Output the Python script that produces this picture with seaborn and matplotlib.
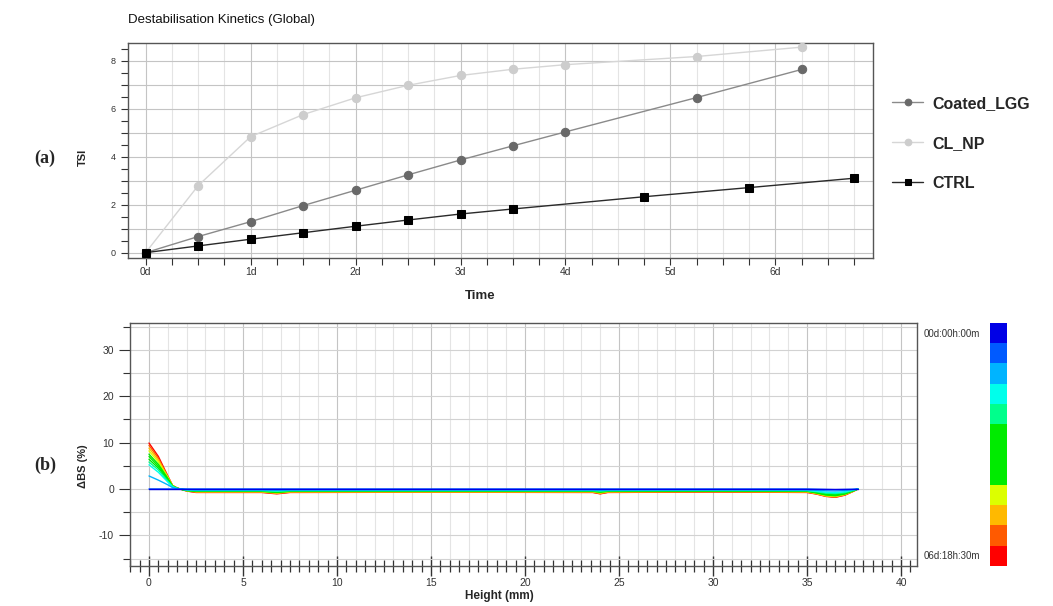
import numpy as np
import pandas as pd
import matplotlib
matplotlib.use("Agg")
import matplotlib.pyplot as plt
import seaborn as sns
from matplotlib.ticker import MultipleLocator, FuncFormatter
from matplotlib.colors import ListedColormap, BoundaryNorm
from matplotlib.cm import ScalarMappable

# --- panel (a): TSI kinetics ---
t_np = [0, 0.5, 1, 1.5, 2, 2.5, 3, 3.5, 4, 5.25, 6.25]
tsi_cl_np = [0, 2.79, 4.83, 5.75, 6.45, 6.97, 7.38, 7.64, 7.83, 8.17, 8.56]
t_lgg = [0, 0.5, 1, 1.5, 2, 2.5, 3, 3.5, 4, 5.25, 6.25]
tsi_coated_lgg = [0, 0.67, 1.29, 1.96, 2.6, 3.24, 3.86, 4.45, 5.03, 6.46, 7.63]
t_ctrl = [0, 0.5, 1, 1.5, 2, 2.5, 3, 3.5, 4.75, 5.75, 6.75]
tsi_ctrl = [0, 0.28, 0.56, 0.83, 1.1, 1.36, 1.61, 1.82, 2.33, 2.71, 3.1]
day_labels = ["0d", "1d", "2d", "3d", "4d", "5d", "6d"]

# --- panel (b): delta backscattering profiles (first scan -> last scan) ---
heights = [0, 0.5, 1.0, 1.25, 1.5, 2.0, 2.5, 6.0, 6.8, 7.5, 15, 23.6, 24.0,
           24.4, 30, 35.0, 35.5, 36.0, 36.5, 37.0, 37.5, 37.7]
profiles = [
    [0, 0, 0, 0, 0, 0, 0, 0, 0, 0, 0, 0, 0, 0, 0, 0, 0, 0, 0, 0, 0, 0],
    [0, 0, 0, 0, 0, 0, 0, 0, 0, 0, 0, 0, 0, 0, 0, 0, -0.05, -0.1, -0.15, -0.1, -0.05, 0],
    [2.8, 1.9, 0.9, 0.3, 0.1, -0.1, -0.2, -0.2, -0.25, -0.2, -0.2, -0.2, -0.25, -0.2, -0.15, -0.2, -0.3, -0.4, -0.45, -0.35, -0.1, 0],
    [5.2, 3.6, 1.5, 0.5, 0.1, -0.2, -0.3, -0.3, -0.4, -0.3, -0.3, -0.3, -0.35, -0.3, -0.25, -0.3, -0.5, -0.7, -0.8, -0.6, -0.2, 0],
    [5.8, 4.1, 1.7, 0.5, 0.1, -0.25, -0.35, -0.35, -0.5, -0.35, -0.35, -0.35, -0.45, -0.35, -0.3, -0.35, -0.6, -0.9, -1.0, -0.8, -0.25, 0],
    [6.4, 4.5, 1.9, 0.6, 0.1, -0.3, -0.4, -0.4, -0.6, -0.4, -0.4, -0.4, -0.5, -0.4, -0.35, -0.4, -0.7, -1.1, -1.2, -0.9, -0.3, 0],
    [7.0, 4.9, 2.1, 0.6, 0.15, -0.3, -0.45, -0.45, -0.7, -0.45, -0.45, -0.45, -0.6, -0.45, -0.4, -0.45, -0.8, -1.2, -1.35, -1.0, -0.3, 0],
    [7.5, 5.3, 2.3, 0.65, 0.15, -0.35, -0.5, -0.5, -0.75, -0.5, -0.5, -0.5, -0.7, -0.5, -0.45, -0.5, -0.85, -1.3, -1.45, -1.1, -0.35, 0],
    [8.2, 5.8, 2.5, 0.7, 0.15, -0.35, -0.55, -0.55, -0.8, -0.55, -0.55, -0.55, -0.8, -0.55, -0.5, -0.55, -0.9, -1.4, -1.55, -1.15, -0.35, 0],
    [8.8, 6.2, 2.6, 0.7, 0.2, -0.4, -0.6, -0.6, -0.9, -0.6, -0.6, -0.6, -0.9, -0.6, -0.55, -0.6, -1.0, -1.5, -1.65, -1.2, -0.4, 0],
    [9.4, 6.6, 2.7, 0.75, 0.2, -0.4, -0.7, -0.7, -0.95, -0.7, -0.65, -0.7, -1.0, -0.7, -0.6, -0.7, -1.05, -1.55, -1.75, -1.3, -0.4, 0],
    [9.9, 7.0, 2.8, 0.75, 0.2, -0.45, -0.75, -0.75, -1.05, -0.75, -0.7, -0.75, -1.05, -0.75, -0.65, -0.75, -1.1, -1.6, -1.8, -1.35, -0.45, 0],
]
profile_colors = ["#0000e6", "#005aff", "#00b4ff", "#00ffeb", "#00ff8c", "#00eb00",
                  "#00eb00", "#00eb00", "#dcff00", "#ffb900", "#ff5a00", "#ff0000"]
time_labels = ["00d:00h:00m", "06d:18h:30m"]

sns.set_style("white")
plt.rcParams["font.family"] = ["Liberation Sans", "DejaVu Sans"]
plt.rcParams["axes.unicode_minus"] = False

W, H = 1053, 606
fig = plt.figure(figsize=(W / 100, H / 100), dpi=100)


def box(x0, y0, x1, y1):
    # pixel box (top-left origin) -> figure fraction
    return [x0 / W, 1 - y1 / H, (x1 - x0) / W, (y1 - y0) / H]


frame_col = "#555555"
tick_col = "#333333"

# ---------- (a) ----------
ax1 = fig.add_axes(box(127.7, 43.3, 873, 257.7))
series = [
    ("Coated_LGG", t_lgg, tsi_coated_lgg, "#8a8a8a", "#696969", "o", 6),
    ("CL_NP", t_np, tsi_cl_np, "#d6d6d6", "#cdcdcd", "o", 6),
    ("CTRL", t_ctrl, tsi_ctrl, "#2a2a2a", "#000000", "s", 6),
]
for name, xs, ys, lc, mc, mk, ms in series:
    df = pd.DataFrame({"Time": xs, "TSI": ys})
    sns.lineplot(data=df, x="Time", y="TSI", ax=ax1, color=lc, lw=1.0,
                 marker=mk, markersize=ms, markerfacecolor=mc,
                 markeredgecolor=mc, label=name, zorder=3)
ax1.set_xlim(-0.171, 6.93)
ax1.set_ylim(-0.21, 8.72)
ax1.xaxis.set_major_locator(MultipleLocator(1))
ax1.xaxis.set_minor_locator(MultipleLocator(0.25))
ax1.xaxis.set_major_formatter(FuncFormatter(
    lambda v, p: day_labels[int(round(v))] if 0 <= round(v) < len(day_labels) else ""))
ax1.yaxis.set_major_locator(MultipleLocator(1))
ax1.yaxis.set_minor_locator(MultipleLocator(0.5))
ax1.yaxis.set_major_formatter(FuncFormatter(
    lambda v, p: f"{int(round(v))}" if int(round(v)) % 2 == 0 else ""))
ax1.grid(which="major", color="#c4c4c4", lw=0.8)
ax1.grid(which="minor", axis="x", color="#e4e4e4", lw=0.8)
ax1.tick_params(which="both", direction="out", length=5, width=0.8,
                color=tick_col, labelcolor=tick_col)
ax1.tick_params(axis="x", labelsize=7.5, pad=1.5)
ax1.tick_params(axis="y", labelsize=6.5)
ax1.tick_params(which="both", bottom=True, left=True)
for s in ax1.spines.values():
    s.set_color(frame_col)
    s.set_linewidth(1.0)
ax1.set_xlabel("Time", fontsize=9.5, fontweight="bold")
ax1.set_ylabel("TSI", fontsize=8, fontweight="bold")
ax1.xaxis.set_label_coords(0.473, -0.15)
ax1.yaxis.set_label_coords(-0.053, 0.47)
ax1.text(0, 1.109, "Destabilisation Kinetics (Global)", transform=ax1.transAxes,
         fontsize=9.5, va="center", ha="left", color="#111111")
handles, labels = ax1.get_legend_handles_labels()
ax1.get_legend().remove()
fig.legend(handles, labels, loc="upper left", bbox_to_anchor=(892 / W, 1 - 96 / H),
           frameon=False, borderpad=0, borderaxespad=0, labelspacing=1.55,
           handlelength=1.95, handletextpad=0.6, markerscale=0.8,
           prop={"size": 11.5, "weight": "bold"})

# ---------- (b) ----------
ax2 = fig.add_axes(box(130, 323.3, 916.7, 566))
for vals, col in list(zip(profiles, profile_colors))[::-1]:
    sns.lineplot(x=heights, y=vals, ax=ax2, color=col, lw=1.0, zorder=3)
ax2.set_xlim(-1.01, 40.83)
ax2.set_ylim(-16.6, 35.7)
ax2.xaxis.set_major_locator(MultipleLocator(5))
ax2.xaxis.set_minor_locator(MultipleLocator(0.5))
ax2.yaxis.set_major_locator(MultipleLocator(10))
ax2.yaxis.set_minor_locator(MultipleLocator(5))
for v in range(-1, 41):
    ax2.axvline(v, color="#c4c4c4" if v % 5 == 0 else "#e4e4e4", lw=0.8, zorder=0)
ax2.grid(which="both", axis="y", color="#d2d2d2", lw=0.8)
ax2.tick_params(axis="x", which="major", direction="inout", length=15, width=1.0,
                color=tick_col, labelcolor=tick_col, labelsize=7.5, pad=1)
ax2.tick_params(axis="x", which="minor", direction="inout", length=8, width=0.9,
                color=tick_col)
ax2.tick_params(axis="y", which="major", direction="out", length=8, width=0.8,
                color=tick_col, labelcolor=tick_col, labelsize=7.5)
ax2.tick_params(axis="y", which="minor", direction="out", length=5, width=0.8,
                color=tick_col)
ax2.tick_params(which="both", bottom=True, left=True)
for s in ax2.spines.values():
    s.set_color(frame_col)
    s.set_linewidth(1.0)
ax2.set_xlabel("Height (mm)", fontsize=8.5, fontweight="bold")
ax2.set_ylabel("ΔBS (%)", fontsize=8, fontweight="bold")
ax2.xaxis.set_label_coords(0.47, -0.097)
ax2.yaxis.set_label_coords(-0.053, 0.41)

# colour scale of scan times
cax = fig.add_axes(box(990, 322.7, 1007, 566))
cmap = ListedColormap(profile_colors[::-1])
norm = BoundaryNorm(np.arange(len(profile_colors) + 1), cmap.N)
cb = fig.colorbar(ScalarMappable(norm=norm, cmap=cmap), cax=cax)
cb.set_ticks([])
cax.minorticks_off()
cax.tick_params(which="both", length=0, labelright=False)
cb.outline.set_visible(False)
fig.text(924 / W, 1 - 334 / H, time_labels[0], fontsize=7, va="center", color=tick_col)
fig.text(924 / W, 1 - 556 / H, time_labels[1], fontsize=7, va="center", color=tick_col)

# panel letters
for letter, yp in (("(a)", 158), ("(b)", 465)):
    fig.text(45 / W, 1 - yp / H, letter, fontsize=13, fontweight="bold",
             ha="center", va="center", family=["Liberation Serif", "DejaVu Serif"])

fig.savefig("out.png", dpi=100)
